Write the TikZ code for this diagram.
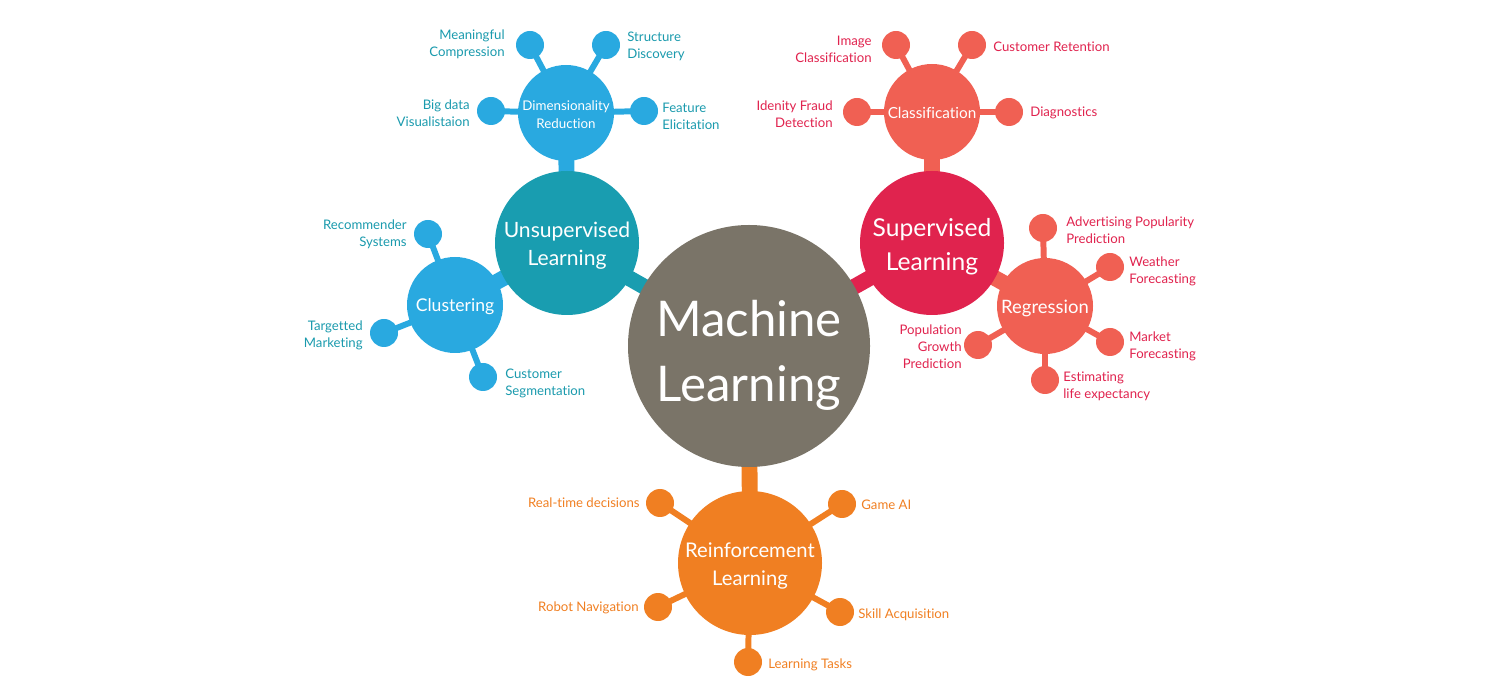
\documentclass[tikz,border=0pt]{standalone}
\usepackage{fontspec}
\setmainfont{Lato}[Ligatures=NoCommon]
\usetikzlibrary{backgrounds}

\definecolor{mlgray}{HTML}{7A7468}
\definecolor{unsupteal}{HTML}{199DB0}
\definecolor{unsupblue}{HTML}{29A9E0}
\definecolor{suprred}{HTML}{E0234E}
\definecolor{suprsalmon}{HTML}{F06053}
\definecolor{reinforange}{HTML}{F07F22}
\definecolor{tealtext}{HTML}{1A9AAD}

% Szöveg lejjebb tolása a körben (a doboz mérete nem változik)
\newcommand\sunk[2]{\raisebox{-#1}[\height][\depth]{\begin{tabular}{@{}c@{}}#2\end{tabular}}}

\begin{document}
\begin{tikzpicture}[x=0.2mm, y=-0.2mm,
    % Körök: középső, fő ágak, al-ágak, levelek
    hub/.style={circle, fill=mlgray, text=white, inner sep=0pt,
        minimum size=48.4mm, font=\fontsize{28}{37}\selectfont},
    branch/.style={circle, fill=#1, text=white, inner sep=0pt,
        minimum size=28.8mm},
    twig/.style={circle, fill=#1, text=white, inner sep=0pt,
        minimum size=19.2mm},
    leaf/.style={circle, fill=#1, inner sep=0pt, minimum size=5.6mm},
    % Feliratok a levelek mellett
    tag/.style={text=#1, inner sep=0pt, font=\fontsize{7.5}{9.7}\selectfont},
    % Összekötő vonalak
    link/.style={draw=#1, line width=9pt},
    stub/.style={draw=#1, line width=3.4pt}
]
    \useasboundingbox (0,0) rectangle (1500,700);

    % Középső kör és a fő ágak
    \node[hub] (ml) at (749,346) {\sunk{2mm}{Machine\\Learning}};
    \node[branch=unsupteal, font=\fontsize{12}{16}\selectfont] (unsup) at (567,243) {\sunk{0.6mm}{Unsupervised\\Learning}};
    \node[branch=suprred, font=\fontsize{14}{19}\selectfont] (supr) at (932,243) {\sunk{0.8mm}{Supervised\\Learning}};
    \node[branch=reinforange, font=\fontsize{11.5}{15.5}\selectfont] (reinf) at (750,563) {\sunk{0.6mm}{Reinforcement\\Learning}};

    % Al-ágak
    \node[twig=unsupblue, font=\fontsize{7.6}{10}\selectfont] (dimred) at (566,113) {\sunk{0.6mm}{Dimensionality\\Reduction}};
    \node[twig=unsupblue, font=\fontsize{10}{12}\selectfont] (clust) at (455,305) {\sunk{0.4mm}{Clustering}};
    \node[twig=suprsalmon, font=\fontsize{8.7}{12}\selectfont] (classif) at (932,112) {\sunk{0.4mm}{Classification}};
    \node[twig=suprsalmon, font=\fontsize{10.5}{12}\selectfont] (regr) at (1045,306) {\sunk{0.6mm}{Regression}};

    % Levelek: dimenziócsökkentés
    \node[leaf=unsupblue] (compr) at (530,45) {};
    \node[leaf=unsupblue] (struct) at (606,45) {};
    \node[leaf=unsupblue] (bigdata) at (491,111) {};
    \node[leaf=unsupblue] (feat) at (644,111) {};
    % Levelek: klaszterezés
    \node[leaf=unsupblue] (recomm) at (428,234) {};
    \node[leaf=unsupblue] (target) at (384,333) {};
    \node[leaf=unsupblue] (segm) at (483,377) {};
    % Levelek: osztályozás
    \node[leaf=suprsalmon] (imgcl) at (896,45) {};
    \node[leaf=suprsalmon] (retent) at (972,45) {};
    \node[leaf=suprsalmon] (fraud) at (857,112) {};
    \node[leaf=suprsalmon] (diagn) at (1009,112) {};
    % Levelek: regresszió
    \node[leaf=suprsalmon] (advert) at (1043,228) {};
    \node[leaf=suprsalmon] (weather) at (1110,267) {};
    \node[leaf=suprsalmon] (market) at (1110,342) {};
    \node[leaf=suprsalmon] (lifeexp) at (1045,380) {};
    \node[leaf=suprsalmon] (popul) at (978,345) {};
    % Levelek: megerősítéses tanulás
    \node[leaf=reinforange] (realtime) at (660,503) {};
    \node[leaf=reinforange] (gameai) at (842,504) {};
    \node[leaf=reinforange] (robot) at (658,607) {};
    \node[leaf=reinforange] (skill) at (840,612) {};
    \node[leaf=reinforange] (tasks) at (748,662) {};

    % Vonalak a körök mögött
    \begin{scope}[on background layer]
        \draw[link=unsupteal] (ml.center) -- (unsup.center);
        \draw[link=suprred] (ml.center) -- (supr.center);
        \draw[link=reinforange] (ml.center) -- (reinf.center);
        \draw[link=unsupblue] (unsup.center) -- (dimred.center);
        \draw[link=unsupblue] (unsup.center) -- (clust.center);
        \draw[link=suprsalmon] (supr.center) -- (classif.center);
        \draw[link=suprsalmon] (supr.center) -- (regr.center);

        \draw[stub=unsupblue] (dimred.center) -- (compr.center);
        \draw[stub=unsupblue] (dimred.center) -- (struct.center);
        \draw[stub=unsupblue] (dimred.center) -- (bigdata.center);
        \draw[stub=unsupblue] (dimred.center) -- (feat.center);
        \draw[stub=unsupblue] (clust.center) -- (recomm.center);
        \draw[stub=unsupblue] (clust.center) -- (target.center);
        \draw[stub=unsupblue] (clust.center) -- (segm.center);

        \draw[stub=suprsalmon] (classif.center) -- (imgcl.center);
        \draw[stub=suprsalmon] (classif.center) -- (retent.center);
        \draw[stub=suprsalmon] (classif.center) -- (fraud.center);
        \draw[stub=suprsalmon] (classif.center) -- (diagn.center);
        \draw[stub=suprsalmon] (regr.center) -- (advert.center);
        \draw[stub=suprsalmon] (regr.center) -- (weather.center);
        \draw[stub=suprsalmon] (regr.center) -- (market.center);
        \draw[stub=suprsalmon] (regr.center) -- (lifeexp.center);
        \draw[stub=suprsalmon] (regr.center) -- (popul.center);

        \draw[stub=reinforange] (reinf.center) -- (realtime.center);
        \draw[stub=reinforange] (reinf.center) -- (gameai.center);
        \draw[stub=reinforange] (reinf.center) -- (robot.center);
        \draw[stub=reinforange] (reinf.center) -- (skill.center);
        \draw[stub=reinforange] (reinf.center) -- (tasks.center);
    \end{scope}

    % Feliratok: felügyelet nélküli tanulás
    \node[tag=tealtext, anchor=east, align=right] (comprtxt) at (505,44) {Meaningful\\Compression};
    \node[tag=tealtext, anchor=west, align=left] (structtxt) at (627,46) {Structure\\Discovery};
    \node[tag=tealtext, anchor=east, align=right] (bigdatatxt) at (470,113) {Big data\\Visualistaion};
    \node[tag=tealtext, anchor=west, align=left] (feattxt) at (662,116) {Feature\\Elicitation};
    \node[tag=tealtext, anchor=east, align=right] (recommtxt) at (407,234) {Recommender\\Systems};
    \node[tag=tealtext, anchor=east, align=right] (targettxt) at (363,335) {Targetted\\Marketing};
    \node[tag=tealtext, anchor=west, align=left] (segmtxt) at (505,383) {Customer\\Segmentation};

    % Feliratok: felügyelt tanulás
    \node[tag=suprred, anchor=east, align=right] (imgcltxt) at (872,49) {Image\\Classification};
    \node[tag=suprred, anchor=west, align=left] (retenttxt) at (993,47) {Customer Retention};
    \node[tag=suprred, anchor=east, align=right] (fraudtxt) at (833,114) {Idenity Fraud\\Detection};
    \node[tag=suprred, anchor=west, align=left] (diagntxt) at (1030,113) {Diagnostics};
    \node[tag=suprred, anchor=west, align=left] (adverttxt) at (1066,230) {Advertising Popularity\\Prediction};
    \node[tag=suprred, anchor=west, align=left] (weathertxt) at (1129,271) {Weather\\Forecasting};
    \node[tag=suprred, anchor=west, align=left] (markettxt) at (1129,346) {Market\\Forecasting};
    \node[tag=suprred, anchor=west, align=left] (lifeexptxt) at (1063,386) {Estimating\\life expectancy};
    \node[tag=suprred, anchor=east, align=right] (popultxt) at (962,347) {Population\\Growth\\Prediction};

    % Feliratok: megerősítéses tanulás
    \node[tag=reinforange, anchor=east] (realtimetxt) at (640,503) {Real-time decisions};
    \node[tag=reinforange, anchor=west] (gameaitxt) at (861,505) {Game AI};
    \node[tag=reinforange, anchor=east] (robottxt) at (639,608) {Robot Navigation};
    \node[tag=reinforange, anchor=west] (skilltxt) at (858,615) {Skill Acquisition};
    \node[tag=reinforange, anchor=west] (taskstxt) at (768,665) {Learning Tasks};
\end{tikzpicture}
\end{document}
